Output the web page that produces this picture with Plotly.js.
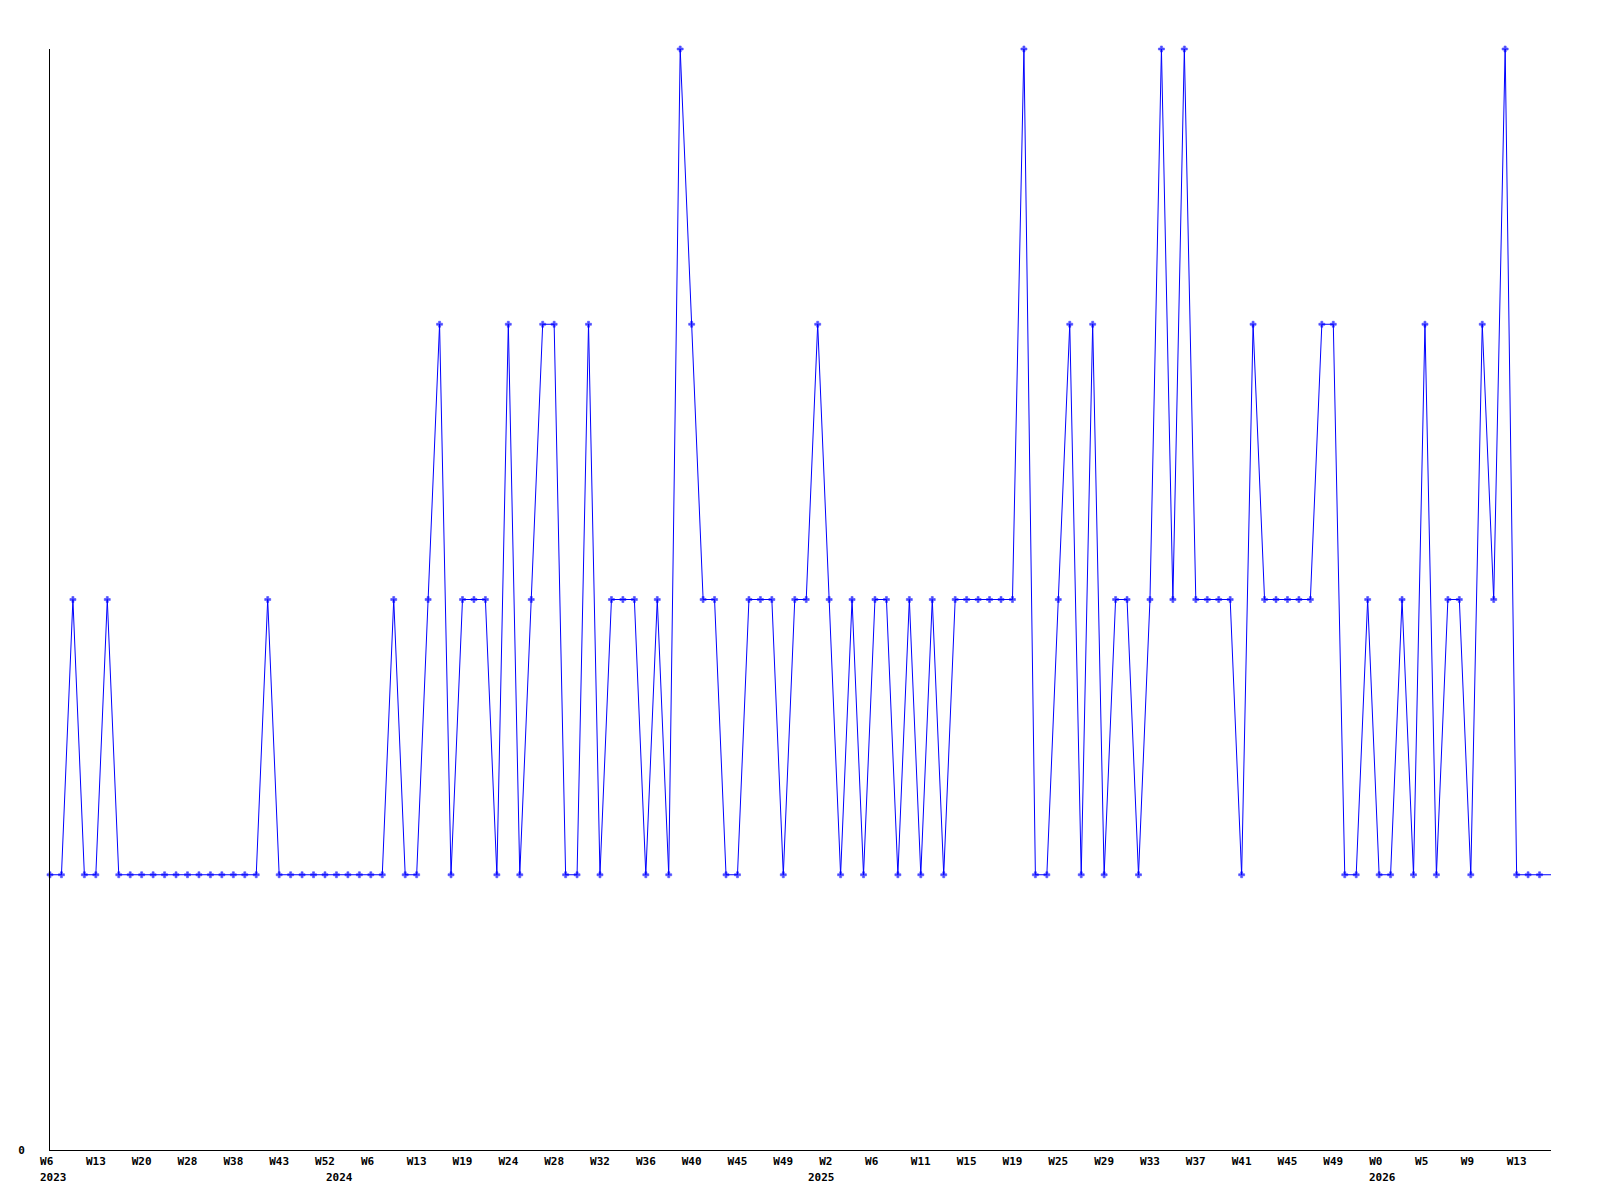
<!DOCTYPE html>
<html>
<head>
<meta charset="utf-8">
<script src="https://cdn.plot.ly/plotly-3.0.1.min.js"></script>
<style>
  html, body { margin: 0; padding: 0; background: #ffffff; }
  #chart { width: 1600px; height: 1200px; }
</style>
</head>
<body>
<div id="chart"></div>
<script>
// Series values (one per period, left to right)
const values = [
  1,1,2,1,1,2,1,1,1,1,
  1,1,1,1,1,1,1,1,1,2,
  1,1,1,1,1,1,1,1,1,1,
  2,1,1,2,3,1,2,2,2,1,
  3,1,2,3,3,1,1,3,1,2,
  2,2,1,2,1,4,3,2,2,1,
  1,2,2,2,1,2,2,3,2,1,
  2,1,2,2,1,2,1,2,1,2,
  2,2,2,2,2,4,1,1,2,3,
  1,3,1,2,2,1,2,4,2,4,
  2,2,2,2,1,3,2,2,2,2,
  2,3,3,1,1,2,1,1,2,1,
  3,1,2,2,1,3,2,4,1,1,
  1,1
];

// Week tick labels (one every 4th period)
const tickLabels = [
  "W6","W13","W20","W28","W38","W43","W52","W6","W13","W19","W24",
  "W28","W32","W36","W40","W45","W49","W2","W6","W11","W15","W19",
  "W25","W29","W33","W37","W41","W45","W49","W0","W5","W9","W13"
];
const tickEvery = 4;

// Year labels and the period index where each year starts
const yearLabels = ["2023","2024","2025","2026"];
const yearStartIndex = [0, 25, 67, 116];

const FONT = "'DejaVu Sans Mono', 'Liberation Mono', monospace";

const xIdx = values.map((v, i) => i);
const tickvals = tickLabels.map((t, k) => k * tickEvery);
// pad to 3 chars so left edges line up like the reference (monospace)
const ticktext = tickLabels.map(t => t.length < 3 ? t + "\u00A0".repeat(3 - t.length) : t);
// the last (running) period is drawn as line only, at the right edge
const markerSizes = values.map((v, i) => i < values.length - 1 ? 5 : 0);

const trace = {
  x: xIdx,
  y: values,
  type: "scatter",
  mode: "lines+markers",
  line: { color: "#0000ff", width: 1 },
  marker: { color: "#0000ff", symbol: "cross", size: markerSizes, line: { width: 0.6, color: "#0000ff" } },
  cliponaxis: false,
  hoverinfo: "skip"
};

const annotations = yearLabels.map((yl, k) => ({
  text: yl,
  x: yearStartIndex[k],
  xref: "x",
  y: 0,
  yref: "paper",
  xanchor: "left",
  yanchor: "middle",
  xshift: -12,
  yshift: -27,
  showarrow: false,
  font: { family: FONT, size: 11, color: "#000000", weight: "bold" }
}));

const layout = {
  width: 1600,
  height: 1200,
  margin: { l: 50, r: 49, t: 49, b: 50, pad: 0 },
  paper_bgcolor: "#ffffff",
  plot_bgcolor: "#ffffff",
  showlegend: false,
  font: { family: FONT, size: 11, color: "#000000", weight: "bold" },
  xaxis: {
    range: [0, 131],
    showgrid: false,
    zeroline: false,
    showline: true,
    linecolor: "#000000",
    linewidth: 1,
    ticks: "",
    tickmode: "array",
    tickvals: tickvals,
    ticktext: ticktext,
    tickangle: 0,
    ticklabelstandoff: 1,
    tickfont: { family: FONT, size: 11, color: "#000000", weight: "bold" },
    fixedrange: true
  },
  yaxis: {
    range: [0, 4],
    showgrid: false,
    zeroline: false,
    showline: true,
    linecolor: "#000000",
    linewidth: 1,
    ticks: "",
    tickmode: "array",
    tickvals: [0],
    ticktext: ["0"],
    ticklabelstandoff: 22,
    tickfont: { family: FONT, size: 11, color: "#000000", weight: "bold" },
    fixedrange: true
  },
  annotations: annotations
};

Plotly.newPlot("chart", [trace], layout, { displayModeBar: false, staticPlot: true });
</script>
</body>
</html>
